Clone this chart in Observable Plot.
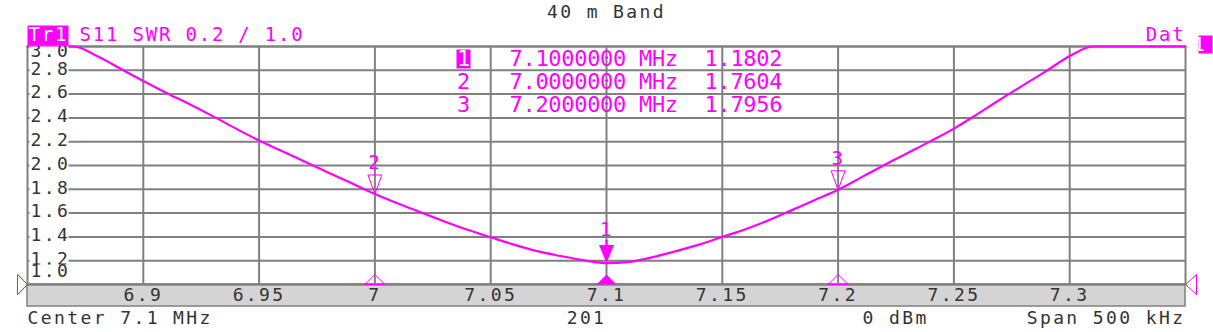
<!DOCTYPE html>
<html><head><meta charset="utf-8">
<script src="https://cdn.jsdelivr.net/npm/d3@7"></script>
<script src="https://cdn.jsdelivr.net/npm/@observablehq/plot@0.6"></script>
<style>body{margin:0;background:#fff;overflow:hidden}</style>
</head><body><div id="chart"></div>
<script>
// ---- data ----
const freqs = [6.85,6.86,6.87,6.88,6.89,6.90,6.91,6.92,6.93,6.94,6.95,6.96,6.97,6.98,6.99,
  7.00,7.01,7.02,7.03,7.04,7.05,7.06,7.07,7.08,7.09,7.10,7.11,7.12,7.13,7.14,7.15,7.16,7.17,7.18,7.19,
  7.20,7.21,7.22,7.23,7.24,7.25,7.26,7.27,7.28,7.29,7.30,7.31,7.32,7.33,7.34,7.35];
const swr = [3.25,3.14,3.03,2.92,2.815,2.71,2.61,2.515,2.415,2.31,2.21,2.12,2.03,1.94,1.85,
  1.7604,1.68,1.605,1.53,1.46,1.397,1.335,1.28,1.24,1.205,1.1802,1.19,1.23,1.28,1.335,1.40,1.465,1.54,1.625,1.71,
  1.7956,1.90,2.005,2.105,2.205,2.31,2.43,2.555,2.675,2.795,2.92,3.05,3.18,3.31,3.44,3.57];
const markerIds = ["1", "2", "3"];
const markerFreqs = [7.1, 7.0, 7.2];
const markerSwr = [1.1802, 1.7604, 1.7956];
const xTicks = [6.9, 6.95, 7, 7.05, 7.1, 7.15, 7.2, 7.25, 7.3];
const yTicks = [1.0, 1.2, 1.4, 1.6, 1.8, 2.0, 2.2, 2.4, 2.6, 2.8, 3.0];
const xDomain = [6.85, 7.35];
const yDomain = [1.0, 3.0];
const titleText = "40 m Band";
const traceTag = "Tr1";
const traceInfo = "S11 SWR 0.2 / 1.0";
const dataTag = "Dat";
const footerCenter = "Center 7.1 MHz";
const footerPoints = "201";
const footerPower = "0 dBm";
const footerSpan = "Span 500 kHz";

// ---- build ----
const MAG = "#ff00ff", GRID = "#808080", INK = "#333333";
const trace = freqs.map((f, i) => ({f, v: swr[i]}));
const markers = markerIds.map((id, i) => ({id, f: markerFreqs[i], v: markerSwr[i]}));
const yLab = yTicks.map(v => ({v, t: v.toFixed(1)}));
const yTop = yLab.filter(d => d.v === yDomain[1]);
const yBottom = yLab.filter(d => d.v === yDomain[0]);
const yMid = yLab.filter(d => d.v !== yDomain[0] && d.v !== yDomain[1]);

const triDown = (w, h, stem) => ({draw(c) { c.moveTo(0, 0); c.lineTo(-w/2, -h); c.lineTo(w/2, -h); c.closePath();
  if (stem) { c.rect(-1, -h - stem, 2, stem); } }});
const triUp = (w, h) => ({draw(c) { c.moveTo(-w/2, 0); c.lineTo(0, -h); c.lineTo(w/2, 0); c.closePath(); }});
const triRight = (w, h) => ({draw(c) { c.moveTo(0, 0); c.lineTo(-h, -w/2); c.lineTo(-h, w/2); c.closePath(); }});
const triLeft = (w, h) => ({draw(c) { c.moveTo(0, 0); c.lineTo(h, -w/2); c.lineTo(h, w/2); c.closePath(); }});
const box = (x, y, w, h) => ({draw(c) { c.rect(x, y, w, h); }});

const FS = 18;
const T = {lineAnchor: "middle"};
const labelOpts = {...T, y: "v", text: "t", frameAnchor: "left", textAnchor: "start", dx: 3, fill: INK, fontSize: FS, clip: true};
const boxOpts = {y: "v", frameAnchor: "left", fill: "white", stroke: "none", clip: true};
const tableRows = markers.flatMap((m, i) => [
  Plot.text([m], {...T, text: "id", frameAnchor: "top", dx: -143, dy: 12 + 23 * i, fill: m.id === "1" ? "white" : MAG, fontSize: 22}),
  Plot.text([m], {...T, text: d => d.f.toFixed(7) + " MHz", frameAnchor: "top", textAnchor: "start", dx: -97, dy: 12 + 23 * i, fill: MAG, fontSize: 22}),
  Plot.text([m], {...T, text: d => d.v.toFixed(4), frameAnchor: "top", textAnchor: "start", dx: 98, dy: 12 + 23 * i, fill: MAG, fontSize: 22})
]);

const plot = Plot.plot({
  width: 1213, height: 332,
  marginLeft: 27, marginRight: 28, marginTop: 46, marginBottom: 48,
  x: {domain: xDomain, axis: null},
  y: {domain: yDomain, axis: null, clamp: true},
  marks: [
    Plot.ruleX(xTicks, {x: d => d, stroke: GRID, strokeWidth: 2}),
    Plot.ruleY(yTicks, {y: d => d, stroke: GRID, strokeWidth: 2}),
    Plot.frame({stroke: GRID, strokeWidth: 2}),
    Plot.line(trace, {x: "f", y: "v", stroke: MAG, strokeWidth: 2.2, curve: "monotone-x"}),
    // y labels (inside plot, on white boxes)
    Plot.dot(yMid, {...boxOpts, symbol: box(2, -9, 39, 16)}),
    Plot.text(yMid, {...labelOpts, dy: -1.5}),
    Plot.dot(yTop, {...boxOpts, symbol: box(2, 0, 39, 13)}),
    Plot.text(yTop, {...labelOpts, dy: 5}),
    Plot.dot(yBottom, {...boxOpts, symbol: box(2, -20, 39, 18)}),
    Plot.text(yBottom, {...labelOpts, dy: -13}),
    // x labels in the grey bar
    Plot.text(xTicks, {...T, x: d => d, text: d => String(d), frameAnchor: "bottom", dy: 11, fill: INK, fontSize: FS}),
    // markers on trace
    Plot.dot(markers.filter(d => d.id === "1"), {x: "f", y: "v", symbol: triDown(15, 18, 5), fill: MAG, stroke: "none"}),
    Plot.dot(markers.filter(d => d.id !== "1"), {x: "f", y: "v", symbol: triDown(14, 19), fill: "none", stroke: MAG, strokeWidth: 1}),
    Plot.text(markers.filter(d => d.id === "1"), {...T, x: "f", y: "v", text: "id", dy: -33, fill: MAG, fontSize: 19}),
    Plot.text(markers.filter(d => d.id !== "1"), {...T, x: "f", y: "v", text: "id", dy: -31, fill: MAG, fontSize: 19}),
    // markers on the bottom edge
    Plot.dot(markers.filter(d => d.id === "1"), {x: "f", frameAnchor: "bottom", symbol: triUp(20, 10), fill: MAG, stroke: "none"}),
    Plot.dot(markers.filter(d => d.id !== "1"), {x: "f", frameAnchor: "bottom", symbol: triUp(20, 10), fill: "none", stroke: MAG, strokeWidth: 1}),
    // reference position markers
    Plot.dot([yDomain[0]], {y: d => d, frameAnchor: "left", symbol: triRight(20, 10), fill: "none", stroke: MAG, strokeWidth: 1}),
    Plot.dot([yDomain[0]], {y: d => d, frameAnchor: "right", symbol: triLeft(20, 11), fill: "none", stroke: MAG, strokeWidth: 1}),
    // header
    Plot.text([titleText], {...T, text: d => d, frameAnchor: "top", dy: -34, fill: INK, fontSize: FS}),
    Plot.dot([0], {frameAnchor: "top-left", symbol: box(0, -21, 41, 20), fill: MAG, stroke: "none"}),
    Plot.text([traceTag], {...T, text: d => d, frameAnchor: "top-left", textAnchor: "start", dx: 1, dy: -12, fill: "white", fontSize: 19}),
    Plot.text([traceInfo], {...T, text: d => d, frameAnchor: "top-left", textAnchor: "start", dx: 52, dy: -12, fill: MAG, fontSize: 19}),
    Plot.text([dataTag], {...T, text: d => d, frameAnchor: "top-right", textAnchor: "end", dx: 0, dy: -12, fill: MAG, fontSize: 19}),
    Plot.dot([0], {frameAnchor: "top-right", symbol: box(13, -11, 14, 18), fill: MAG, stroke: "none"}),
    Plot.text(["1"], {...T, text: d => d, frameAnchor: "top-right", dx: 21, dy: -2, fill: "white", fontSize: 19}),
    // marker table
    Plot.dot([0], {frameAnchor: "top", symbol: box(-150, 3, 14, 19), fill: MAG, stroke: "none"}),
    ...tableRows,
    // footer
    Plot.text([footerCenter], {...T, text: d => d, frameAnchor: "bottom-left", textAnchor: "start", dx: 0, dy: 34, fill: INK, fontSize: FS}),
    Plot.text([footerPoints], {...T, text: d => d, frameAnchor: "bottom", dx: -20, dy: 34, fill: INK, fontSize: FS}),
    Plot.text([footerPower], {...T, text: d => d, frameAnchor: "bottom", textAnchor: "start", dx: 256, dy: 34, fill: INK, fontSize: FS}),
    Plot.text([footerSpan], {...T, text: d => d, frameAnchor: "bottom-right", textAnchor: "end", dx: 0, dy: 34, fill: INK, fontSize: FS})
  ]
});

const svg = d3.select(plot);
svg.style("font-family", "'DejaVu Sans Mono', monospace").style("letter-spacing", "2.4px").style("background", "#fff");
svg.selectAll('g[font-size="22"]').style("letter-spacing", "-0.3px");
svg.selectAll('g[font-size="19"]').style("letter-spacing", "1.8px");
// grey frequency bar under the plot, positioned from the scales
const xr = plot.scale("x").range, yr = plot.scale("y").range;
svg.insert("rect", "g")
  .attr("x", xr[0]).attr("y", yr[0]).attr("width", xr[1] - xr[0]).attr("height", 22)
  .attr("fill", "#d4d4d4").attr("stroke", GRID).attr("stroke-width", 1.5);
document.getElementById("chart").appendChild(plot);
</script></body></html>
